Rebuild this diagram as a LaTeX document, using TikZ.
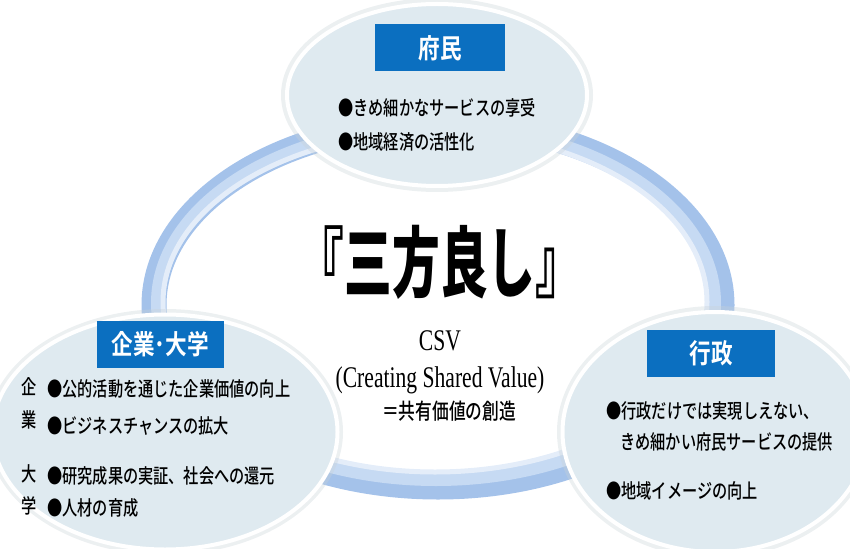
\documentclass[tikz,border=0pt]{standalone}
\usepackage{fontspec}
\usetikzlibrary{shapes.geometric}
\newfontfamily\jp[FakeStretch=0.76]{Noto Sans CJK JP Medium}
\newfontfamily\jpb[FakeStretch=0.8]{Noto Sans CJK JP Bold}
\newfontfamily\jpblack[FakeStretch=0.62]{Noto Sans CJK JP Black}
\newfontfamily\csvfont[FakeStretch=0.72]{Liberation Serif}
\definecolor{ringA}{HTML}{A4C2EA}
\definecolor{ringB}{HTML}{C6DAF3}
\definecolor{ringC}{HTML}{E4EDF9}
\definecolor{blobfill}{HTML}{DFEAF0}
\definecolor{blobshadow}{HTML}{C9D3D8}
\definecolor{labelblue}{HTML}{0B6FC0}
\begin{document}
\begin{tikzpicture}[x=1pt,y=-1pt,
  blob/.style={ellipse,fill=blobfill,draw=white,line width=4pt,inner sep=0pt},
  halo/.style={draw=blobshadow,line width=6pt,opacity=0.35},
  labelbox/.style={fill=labelblue,text=white,font=\jpb\fontsize{27}{30}\selectfont,inner sep=0pt,minimum height=47pt},
  body/.style={font=\jp\fontsize{20}{22}\selectfont,anchor=west,inner sep=0pt},
  side/.style={font=\jp\fontsize{20}{22}\selectfont,inner sep=0pt}]
\useasboundingbox (0,0) rectangle (850,548);
\clip (0,0) rectangle (850,548);
% ring
\draw[ringA,line width=25pt] (438,305) ellipse [x radius=284,y radius=182];
\draw[ringB,line width=14pt] (436,303) ellipse [x radius=278,y radius=176];
\draw[ringC,line width=5pt] (435,302) ellipse [x radius=272,y radius=170];
% halos
\draw[halo] (437,95) ellipse [x radius=153,y radius=94];
\draw[halo] (165,432) ellipse [x radius=175,y radius=120];
\draw[halo] (715,432) ellipse [x radius=155,y radius=123];
% blobs
\node[blob,minimum width=300pt,minimum height=182pt] (top) at (437,95) {};
\node[blob,minimum width=345pt,minimum height=235pt] (left) at (165,432) {};
\node[blob,minimum width=305pt,minimum height=240pt] (right) at (715,432) {};
% labels
\node[labelbox,minimum width=130pt] (fumin) at (440,48) {府民};
\node[labelbox,minimum width=127pt] (kigyo) at (160,344) {企業･大学};
\node[labelbox,minimum width=128pt] (gyosei) at (711,353) {行政};
% top texts
\node[body] (t1) at (338,108) {●きめ細かなサービスの享受};
\node[body] (t2) at (338,142) {●地域経済の活性化};
% left texts
\node[side] (k1) at (29,387) {企};
\node[side] (k2) at (29,420) {業};
\node[side] (d1) at (29,474) {大};
\node[side] (d2) at (29,506) {学};
\node[body] (l1) at (47,389) {●公的活動を通じた企業価値の向上};
\node[body] (l2) at (47,426) {●ビジネスチャンスの拡大};
\node[body] (l3) at (47,476) {●研究成果の実証、社会への還元};
\node[body] (l4) at (47,508) {●人材の育成};
% right texts
\node[body] (r1) at (606,411) {●行政だけでは実現しえない、};
\node[body] (r2) at (620,442) {きめ細かい府民サービスの提供};
\node[body] (r3) at (606,491) {●地域イメージの向上};
% center
\node[font=\jpblack\fontsize{77}{80}\selectfont,inner sep=0pt] (title) at (440,262) {『三方良し』};
\node[font=\csvfont\fontsize{30}{32}\selectfont,inner sep=0pt] (csv) at (440,341) {CSV};
\node[font=\csvfont\fontsize{30}{32}\selectfont,inner sep=0pt] (csv2) at (440,380) {(Creating Shared Value)};
\node[font=\jp\fontsize{22}{24}\selectfont,inner sep=0pt] (csv3) at (449,411) {＝共有価値の創造};
\end{tikzpicture}
\end{document}
